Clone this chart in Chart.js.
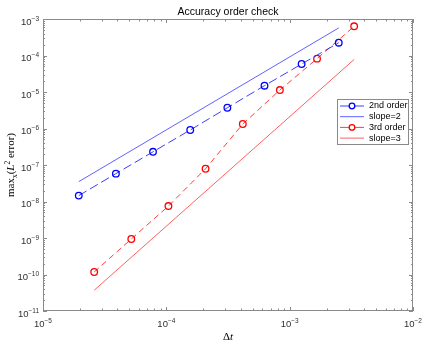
<!DOCTYPE html>
<html>
<head>
<meta charset="utf-8">
<script src="https://cdn.jsdelivr.net/npm/chart.js@4/dist/chart.umd.min.js"></script>
<style>
  body { margin: 0; background: #fff; }
  canvas { display: block; }
</style>
</head>
<body>
<canvas id="chart-area" width="427" height="345"></canvas>
<script>
// data
let dt2 = [1.95e-5, 3.9e-5, 7.8e-5, 1.5625e-4, 3.125e-4, 6.25e-4, 1.25e-3, 2.5e-3];
let err2 = [1.45e-8, 5.8e-8, 2.3e-7, 9.1e-7, 3.7e-6, 1.49e-5, 5.85e-5, 2.24e-4];
let dt3 = [2.6e-5, 5.2e-5, 1.04e-4, 2.08e-4, 4.17e-4, 8.33e-4, 1.667e-3, 3.333e-3];
let err3 = [1.17e-10, 9.4e-10, 7.5e-9, 7.9e-8, 1.33e-6, 1.13e-5, 8.2e-5, 6.3e-4];
let slope2X = [1.95e-5, 2.5e-3];
let slope2Y = [3.5e-8, 5.7e-4];
let slope3X = [2.6e-5, 3.333e-3];
let slope3Y = [3.7e-11, 7.8e-5];
let seriesLabels = ['2nd order', 'slope=2', '3rd order', 'slope=3'];
let xTicks = [1e-5, 1e-4, 1e-3, 1e-2];
let xTickExp = ['-5', '-4', '-3', '-2'];
let yTicks = [1e-11, 1e-10, 1e-9, 1e-8, 1e-7, 1e-6, 1e-5, 1e-4, 1e-3];
let yTickExp = ['-11', '-10', '-9', '-8', '-7', '-6', '-5', '-4', '-3'];
let titleText = 'Accuracy order check';

const frameColor = '#8a8a8a';
const labelColor = '#303030';
const sans = '"Liberation Sans", "DejaVu Sans", sans-serif';
const serif = '"Liberation Serif", "DejaVu Serif", serif';

function pts(xs, ys) {
    return xs.map((x, i) => ({ x: x, y: ys[i] }));
}

// text made of pieces with own font and baseline shift
function richWidth(ctx, parts) {
    let w = 0;
    parts.forEach(p => { ctx.font = p.font; w += ctx.measureText(p.text).width; });
    return w;
}
function drawRich(ctx, parts, x, y) {
    let cx = x;
    parts.forEach(p => {
        ctx.font = p.font;
        ctx.fillText(p.text, cx, y + (p.dy || 0));
        cx += ctx.measureText(p.text).width;
    });
}
function powParts(exp) {
    return [{ text: '10', font: '9.5px ' + sans }, { text: exp.replace('-', '\u2212'), font: '6.5px ' + sans, dy: -4 }];
}

const framePlugin = {
    id: 'frame',
    afterDatasetsDraw(chart) {
        const ctx = chart.ctx;
        const a = chart.chartArea;
        const xs = chart.scales.x, ys = chart.scales.y;
        ctx.save();
        ctx.strokeStyle = frameColor;
        ctx.lineWidth = 1;
        ctx.strokeRect(a.left + 0.5, a.top + 0.5, a.right - a.left - 1, a.bottom - a.top - 1);
        ctx.beginPath();
        for (let k = -5; k <= -2; k++) {
            for (let m = 1; m <= 9; m++) {
                let v = m * Math.pow(10, k);
                if (v > 1.0001e-2) break;
                let px = Math.round(xs.getPixelForValue(v)) + 0.5;
                let len = m == 1 ? 4 : 2.5;
                ctx.moveTo(px, a.bottom); ctx.lineTo(px, a.bottom - len);
                ctx.moveTo(px, a.top); ctx.lineTo(px, a.top + len);
            }
        }
        for (let k = -11; k <= -3; k++) {
            for (let m = 1; m <= 9; m++) {
                let v = m * Math.pow(10, k);
                if (v > 1.0001e-3) break;
                let py = Math.round(ys.getPixelForValue(v)) + 0.5;
                let len = m == 1 ? 4 : 2;
                ctx.moveTo(a.left, py); ctx.lineTo(a.left + len, py);
                ctx.moveTo(a.right, py); ctx.lineTo(a.right - len, py);
            }
        }
        ctx.stroke();

        // tick labels with real superscripts
        ctx.fillStyle = labelColor;
        ctx.textBaseline = 'alphabetic';
        ctx.textAlign = 'left';
        xs.ticks.forEach((t, i) => {
            let parts = powParts(xTickExp[i]);
            let w = richWidth(ctx, parts);
            drawRich(ctx, parts, xs.getPixelForValue(t.value) - w / 2, a.bottom + 16);
        });
        ys.ticks.forEach((t, i) => {
            let parts = powParts(yTickExp[i]);
            let w = richWidth(ctx, parts);
            drawRich(ctx, parts, a.left - 4 - w, ys.getPixelForValue(t.value) + 5.5);
        });

        // title over the plot area
        ctx.fillStyle = '#000';
        ctx.font = '10.5px ' + sans;
        ctx.textAlign = 'center';
        ctx.fillText(titleText, (a.left + a.right) / 2, 14.5);
        ctx.textAlign = 'left';

        // x label: upright delta, italic t
        let xl = [{ text: 'Δ', font: '11px ' + serif }, { text: 't', font: 'italic 11px ' + serif }];
        let xw = richWidth(ctx, xl);
        drawRich(ctx, xl, (a.left + a.right) / 2 - xw / 2, 339.5);

        // y label, rotated
        let yl = [
            { text: 'max', font: '11px ' + serif },
            { text: 'x', font: '7.5px ' + serif, dy: 2.5 },
            { text: '(', font: '11px ' + serif },
            { text: 'L', font: 'italic 11px ' + serif },
            { text: '2', font: '7.5px ' + serif, dy: -4.5 },
            { text: ' error)', font: '11px ' + serif }
        ];
        let yw = richWidth(ctx, yl);
        ctx.save();
        ctx.translate(14, (a.top + a.bottom) / 2);
        ctx.rotate(-Math.PI / 2);
        drawRich(ctx, yl, -yw / 2, 0);
        ctx.restore();
        ctx.restore();
    },
    afterDraw(chart) {
        // legend box, middle right
        const ctx = chart.ctx;
        const bx = 337, by = 99, bw = 71, bh = 45;
        ctx.save();
        ctx.fillStyle = '#fff';
        ctx.fillRect(bx, by, bw, bh);
        ctx.strokeStyle = frameColor;
        ctx.lineWidth = 1;
        ctx.strokeRect(bx + 0.5, by + 0.5, bw, bh);
        ctx.font = '9px ' + sans;
        ctx.textBaseline = 'middle';
        chart.data.datasets.forEach((ds, i) => {
            let y = by + 7 + i * 10.7;
            ctx.strokeStyle = ds.borderColor;
            ctx.lineWidth = ds.borderWidth;
            ctx.beginPath();
            ctx.moveTo(bx + 3, y); ctx.lineTo(bx + 27, y);
            ctx.stroke();
            if (ds.pointRadius > 0) {
                ctx.strokeStyle = ds.pointBorderColor;
                ctx.lineWidth = ds.pointBorderWidth;
                ctx.fillStyle = '#fff';
                ctx.beginPath();
                ctx.arc(bx + 15, y, ds.pointRadius - 0.5, 0, Math.PI * 2);
                ctx.fill();
                ctx.stroke();
            }
            ctx.fillStyle = '#000';
            ctx.fillText(ds.label, bx + 32, y);
        });
        ctx.restore();
    }
};

var config = {
    type: 'scatter',
    data: {
        datasets: [{
            label: seriesLabels[0],
            data: pts(dt2, err2),
            showLine: true,
            borderColor: 'rgba(40,40,255,0.9)',
            borderWidth: 1,
            borderDash: [9, 4],
            pointRadius: 3.3,
            pointBorderColor: '#0000ff',
            pointBorderWidth: 1.3,
            pointBackgroundColor: 'rgba(0,0,0,0)'
        }, {
            label: seriesLabels[1],
            data: pts(slope2X, slope2Y),
            showLine: true,
            borderColor: 'rgba(60,60,255,0.9)',
            borderWidth: 0.9,
            pointRadius: 0
        }, {
            label: seriesLabels[2],
            data: pts(dt3, err3),
            showLine: true,
            borderColor: 'rgba(255,40,40,0.9)',
            borderWidth: 1,
            borderDash: [6, 4],
            pointRadius: 3.3,
            pointBorderColor: '#ff0000',
            pointBorderWidth: 1.3,
            pointBackgroundColor: 'rgba(0,0,0,0)'
        }, {
            label: seriesLabels[3],
            data: pts(slope3X, slope3Y),
            showLine: true,
            borderColor: 'rgba(255,60,60,0.9)',
            borderWidth: 0.9,
            pointRadius: 0
        }]
    },
    options: {
        responsive: false,
        animation: false,
        layout: { padding: { left: 0, right: 14, top: 19, bottom: 0 } },
        plugins: {
            legend: { display: false },
            tooltip: { enabled: false },
            title: { display: false }
        },
        scales: {
            x: {
                type: 'logarithmic',
                min: 1e-5,
                max: 1e-2,
                afterBuildTicks: function(scale) {
                    scale.ticks = xTicks.map(v => ({ value: v }));
                },
                afterFit: function(scale) { scale.height = 34; },
                grid: { display: false },
                border: { display: false },
                ticks: { display: false }
            },
            y: {
                type: 'logarithmic',
                min: 1e-11,
                max: 1e-3,
                afterBuildTicks: function(scale) {
                    scale.ticks = yTicks.map(v => ({ value: v }));
                },
                afterFit: function(scale) { scale.width = 43; },
                grid: { display: false },
                border: { display: false },
                ticks: { display: false }
            }
        }
    },
    plugins: [framePlugin]
};

window.onload = function() {
    var ctx = document.getElementById('chart-area').getContext('2d');
    window.myChart = new Chart(ctx, config);
};
</script>
</body>
</html>
